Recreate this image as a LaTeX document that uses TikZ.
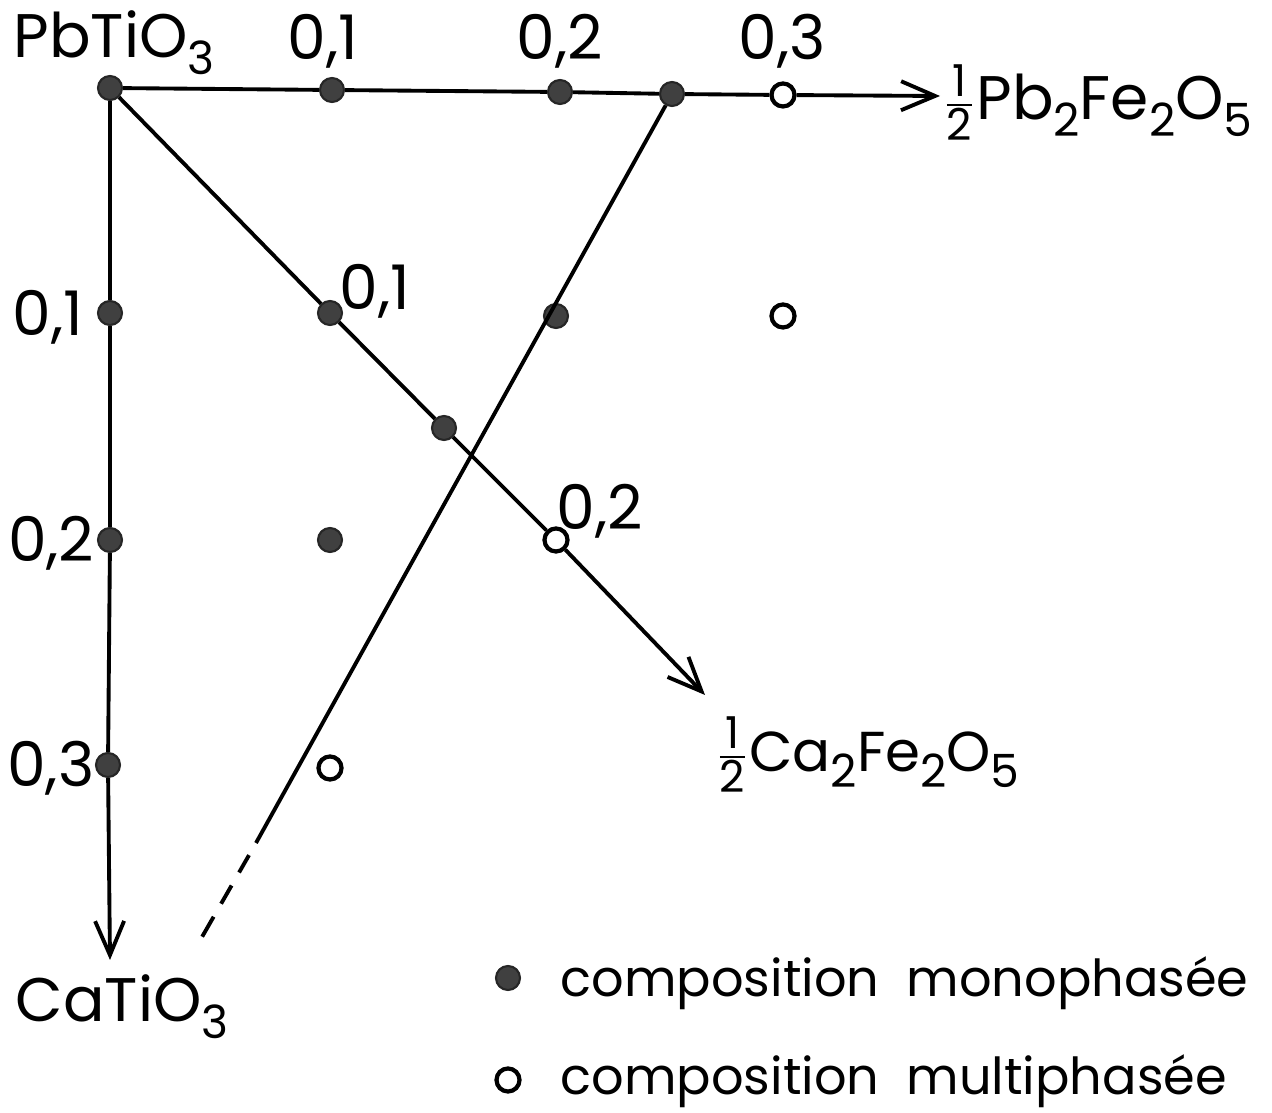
\documentclass[tikz,border=0pt]{standalone}
\usepackage{amsmath}
\usepackage{fontspec}
\setmainfont{Poppins}
\usetikzlibrary{arrows.meta}
\tikzset{
  fd/.style={circle,fill=black!75,draw=black!85,line width=0.6pt,inner sep=0pt,minimum size=2.4mm},
  od/.style={circle,draw,fill=white,line width=1.2pt,inner sep=0pt,minimum size=2.3mm},
  ln/.style={line width=1.1pt},
  ax/.style={line width=1.1pt,-{Straight Barb[length=3.4mm,width=2.9mm]}},
  lb/.style={font=\fontsize{17.5}{20}\selectfont,inner sep=0pt,anchor=base},
  lg/.style={font=\fontsize{14.5}{17}\selectfont,inner sep=0pt,anchor=base west}
}
\newcommand{\sbs}[1]{\raisebox{-0.5ex}{\fontsize{13}{13}\selectfont #1}}
\newcommand{\half}{$\frac{\text{\fontsize{12.5}{12}\selectfont 1}}{\text{\fontsize{12.5}{12}\selectfont 2}}$}

\begin{document}
\begin{tikzpicture}[x=0.01cm,y=-0.01cm]
\useasboundingbox (0,0) rectangle (1272,1113);
\node[fd] (pt) at (110,88) {};
\node[fd] (t1) at (332,90) {}; \node[fd] (t2) at (560,92) {}; \node[fd] (t3) at (672,94) {}; \node[od] (t4) at (783,95) {};
\node[fd] (l1) at (110,313) {}; \node[fd] (l2) at (110,540) {}; \node[fd] (l3) at (108,765) {};
\node[fd] (d1) at (330,313) {}; \node[fd] (d2) at (444,428) {}; \node[od] (d3) at (556,540) {};
\node[fd] (m1) at (556,316) {}; \node[od] (o1) at (783,316) {};
\node[fd] (m2) at (330,540) {}; \node[od] (o2) at (330,768) {};
\coordinate (pe) at (940,96); \coordinate (ce) at (110,960); \coordinate (ke) at (705,695);
\coordinate (se) at (256,843); \coordinate (de) at (202,937);
\draw[ln] (pt) -- (t1) -- (t2) -- (t3) -- (t4); \draw[ax] (t4) -- (pe);
\draw[ln] (pt) -- (l1) -- (l2) -- (l3); \draw[ax] (l3) -- (ce);
\draw[ln] (pt) -- (d1) -- (d2) -- (d3); \draw[ax] (d3) -- (ke);
\draw[ln] (t3) -- (se);
\draw[ln,dash pattern=on 0mm off 1.4mm on 2mm off 1.5mm on 2.1mm off 1.5mm on 2.3mm off 5mm] (se) -- (de);
\node[lb,anchor=base west] (pbt) at (13,58) {PbTiO\sbs{3}};
\node[lb] (x1) at (323,60) {0,1}; \node[lb] (x2) at (560,60) {0,2}; \node[lb] (x3) at (782,60) {0,3};
\node[lb,anchor=base east] (y1) at (84,336) {0,1}; \node[lb,anchor=base east] (y2) at (95,562) {0,2};
\node[lb,anchor=base east] (y3) at (95,787) {0,3};
\node[lb] (z1) at (375,310) {0,1}; \node[lb] (z2) at (600,530) {0,2};
\node[lb,anchor=base west] (cat) at (15,1022) {CaTiO\sbs{3}};
\node[lb,anchor=base west] (pbf) at (942,120) {\half Pb\sbs{2}Fe\sbs{2}O\sbs{5}};
\node[lb,anchor=base west,font=\fontsize{16}{18}\selectfont] (caf) at (715,772) {\half Ca\sbs{2}Fe\sbs{2}O\sbs{5}};
\node[fd] (kf) at (508,978) {}; \node[od] (ko) at (508,1080) {};
\node[lg] (kft) at (560,997) {composition\ \ monophasée};
\node[lg] (kot) at (560,1095) {composition\ \ multiphasée};
\end{tikzpicture}
\end{document}
